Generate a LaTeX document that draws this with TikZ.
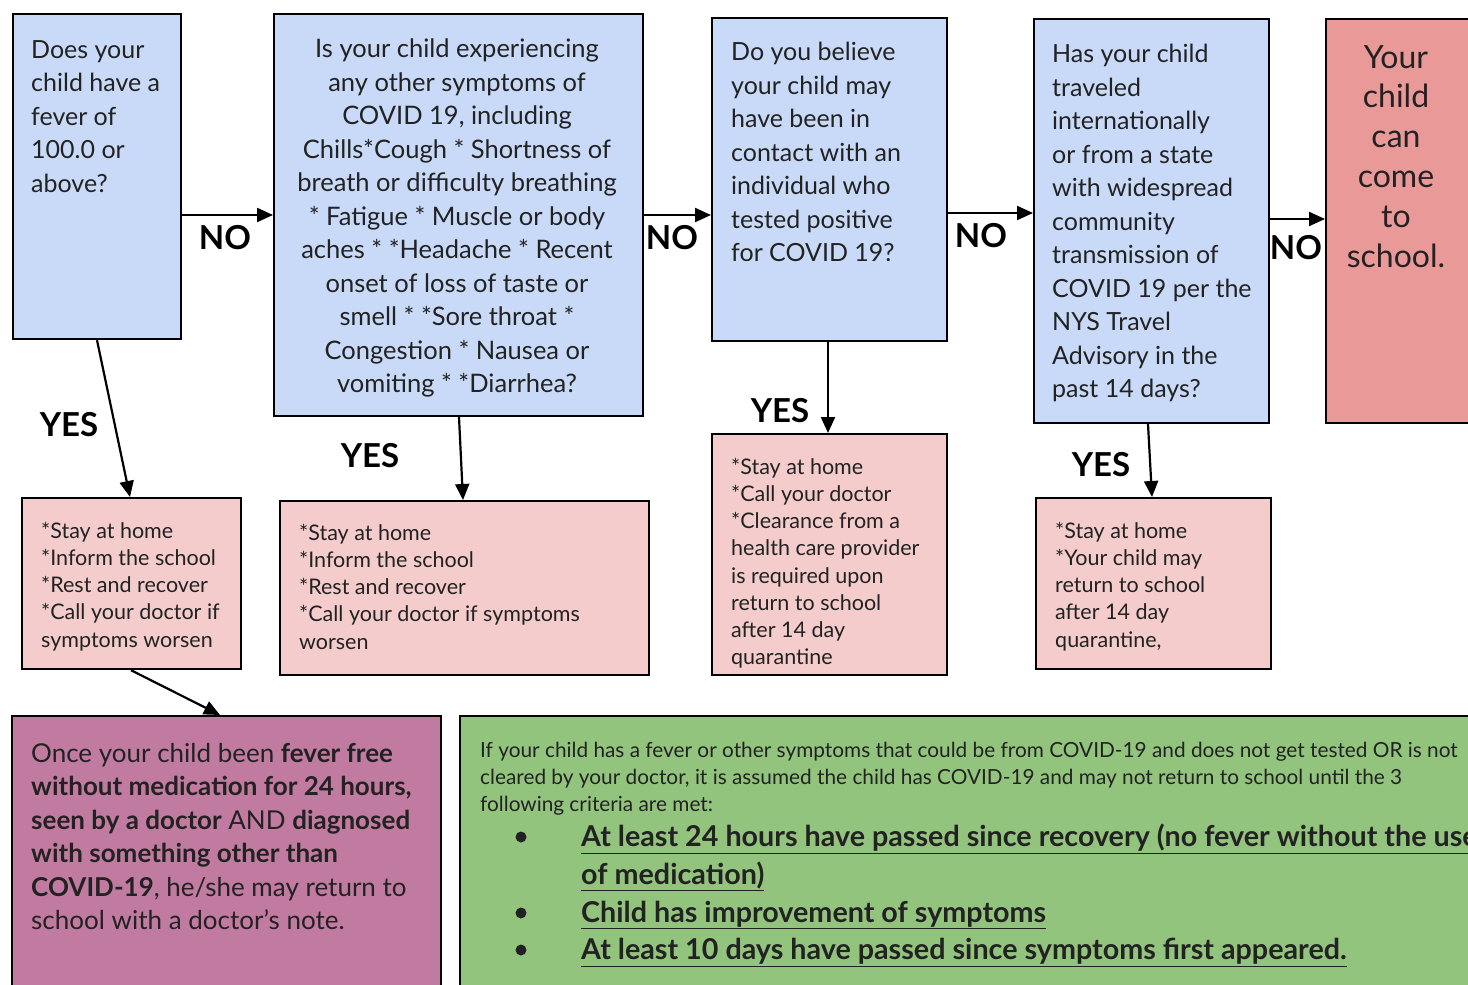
\documentclass[tikz,border=0pt]{standalone}
\usepackage{fontspec}
\setmainfont{Lato}
\usetikzlibrary{arrows.meta}
\definecolor{qblue}{HTML}{C9DAF8}
\definecolor{apink}{HTML}{F4CCCC}
\definecolor{fred}{HTML}{EA9999}
\definecolor{purp}{HTML}{C27BA0}
\definecolor{grn}{HTML}{93C47D}
\definecolor{ink}{HTML}{222222}
\tikzset{
  box/.style={draw=black, line width=2.2pt, anchor=north west, inner sep=0pt},
  qbox/.style={box, fill=qblue},
  abox/.style={box, fill=apink},
  qtxt/.style={anchor=north west, inner sep=0pt, align=left, text=ink, font=\fontsize{25}{33.5}\selectfont},
  ctxt/.style={anchor=north, inner sep=0pt, align=center, text=ink, font=\fontsize{25.5}{33.5}\selectfont},
  atxt/.style={anchor=north west, inner sep=0pt, align=left, text=ink, font=\fontsize{21.5}{27.2}\selectfont},
  lbl/.style={inner sep=0pt, font=\fontsize{33}{33}\selectfont\bfseries},
  arr/.style={line width=2.2pt, -{Triangle[length=16pt,width=14pt]}},
}
\begin{document}
\begin{tikzpicture}[x=1pt,y=-1pt]
\useasboundingbox (0,0) rectangle (1468,985);
\clip (0,0) rectangle (1468,985);
\fill[white] (0,0) rectangle (1468,985);
% question boxes
\node[qbox, minimum width=168pt, minimum height=325pt] (q1) at (12,13) {};
\node[qbox, minimum width=369pt, minimum height=402pt] (q2) at (273,13) {};
\node[qbox, minimum width=235pt, minimum height=323pt] (q3) at (711,17) {};
\node[qbox, minimum width=235pt, minimum height=404pt] (q4) at (1033,18) {};
\node[box, fill=fred, minimum width=170pt, minimum height=404pt] (fin) at (1325,18) {};
% action boxes
\node[abox, minimum width=219pt, minimum height=171pt] (a1) at (21,497) {};
\node[abox, minimum width=369pt, minimum height=174pt] (a2) at (279,500) {};
\node[abox, minimum width=235pt, minimum height=241pt] (a3) at (711,433) {};
\node[abox, minimum width=235pt, minimum height=171pt] (a4) at (1035,497) {};
% bottom boxes
\node[box, fill=purp, minimum width=429pt, minimum height=320pt] (pur) at (11,715) {};
\node[box, fill=grn, minimum width=1040pt, minimum height=320pt] (grn) at (459,715) {};

% texts
\node[qtxt] (t1) at (31,40) {Does your\\child have a\\fever of\\100.0 or\\above?};
\node[ctxt] (t2) at (457,39) {Is your child experiencing\\any other symptoms of\\COVID 19, including\\Chills*Cough * Shortness of\\breath or difficulty breathing\\* Fatigue * Muscle or body\\aches * *Headache * Recent\\onset of loss of taste or\\smell * *Sore throat *\\Congestion * Nausea or\\vomiting * *Diarrhea?};
\node[qtxt] (t3) at (731,42) {Do you believe\\your child may\\have been in\\contact with an\\individual who\\tested positive\\for COVID 19?};
\node[qtxt] (t4) at (1052,44) {Has your child\\traveled\\internationally\\or from a state\\with widespread\\community\\transmission of\\COVID 19 per the\\NYS Travel\\Advisory in the\\past 14 days?};
\node[anchor=north, inner sep=0pt, align=center, text=ink, font=\fontsize{32}{39.8}\selectfont] (t5) at (1396,45) {Your\\child\\can\\come\\to\\school.};

\node[atxt] (s1) at (41,522) {*Stay at home\\*Inform the school\\*Rest and recover\\*Call your doctor if\\symptoms worsen};
\node[atxt] (s2) at (299,524) {*Stay at home\\*Inform the school\\*Rest and recover\\*Call your doctor if symptoms\\worsen};
\node[atxt] (s3) at (731,458) {*Stay at home\\*Call your doctor\\*Clearance from a\\health care provider\\is required upon\\return to school\\after 14 day\\quarantine};
\node[atxt] (s4) at (1055,522) {*Stay at home\\*Your child may\\return to school\\after 14 day\\quarantine,};

\node[anchor=north west, inner sep=0pt, align=left, text=ink, font=\fontsize{26}{33.5}\selectfont] (p1) at (31,743) {Once your child been \textbf{fever free}\\\textbf{without medication for 24 hours,}\\\textbf{seen by a doctor} AND \textbf{diagnosed}\\\textbf{with something other than}\\\textbf{COVID-19}, he/she may return to\\school with a doctor’s note.};

\node[anchor=north west, inner sep=0pt, align=left, text=ink, font=\fontsize{20.8}{27}\selectfont] (g1) at (480,742) {If your child has a fever or other symptoms that could be from COVID-19 and does not get tested OR is not\\cleared by your doctor, it is assumed the child has COVID-19 and may not return to school until the 3\\following criteria are met:};
\node[anchor=north west, inner sep=0pt, align=left, text=ink, font=\fontsize{28.7}{37.7}\selectfont\bfseries] (g2) at (581,824) {\underline{At least 24 hours have passed since recovery (no fever without the use}\\\underline{of medication)}\\\underline{Child has improvement of symptoms}\\\underline{At least 10 days have passed since symptoms first appeared.}};
\foreach \yy/\nm in {837/b1,913/b2,950/b3}
  \node[circle, fill=ink, inner sep=0pt, minimum size=11pt] (\nm) at (521,\yy) {};

% connectors
\draw[arr] (q1.east |- 0,215) -- (q2.west |- 0,215);
\draw[arr] (q2.east |- 0,215) -- (q3.west |- 0,215);
\draw[arr] (q3.east |- 0,213) -- (q4.west |- 0,213);
\draw[arr] (q4.east |- 0,219) -- (fin.west |- 0,219);
\draw[arr] (q1.south -| 97,0) -- (a1.north -| 130,0);
\draw[arr] (q2.south -| 459,0) -- (a2.north -| 463,0);
\draw[arr] (q3.south -| 828,0) -- (a3.north -| 828,0);
\draw[arr] (q4.south -| 1148,0) -- (a4.north -| 1152,0);
\draw[arr] (a1.south -| 131,0) -- (pur.north -| 220,0);

% labels
\node[lbl] (n1) at (225,238) {NO};
\node[lbl] (n2) at (672,238) {NO};
\node[lbl] (n3) at (981,236) {NO};
\node[lbl] (n4) at (1296,248) {NO};
\node[lbl] (y1) at (69,425) {YES};
\node[lbl] (y2) at (370,456) {YES};
\node[lbl] (y3) at (780,411) {YES};
\node[lbl] (y4) at (1101,465) {YES};
\end{tikzpicture}
\end{document}
